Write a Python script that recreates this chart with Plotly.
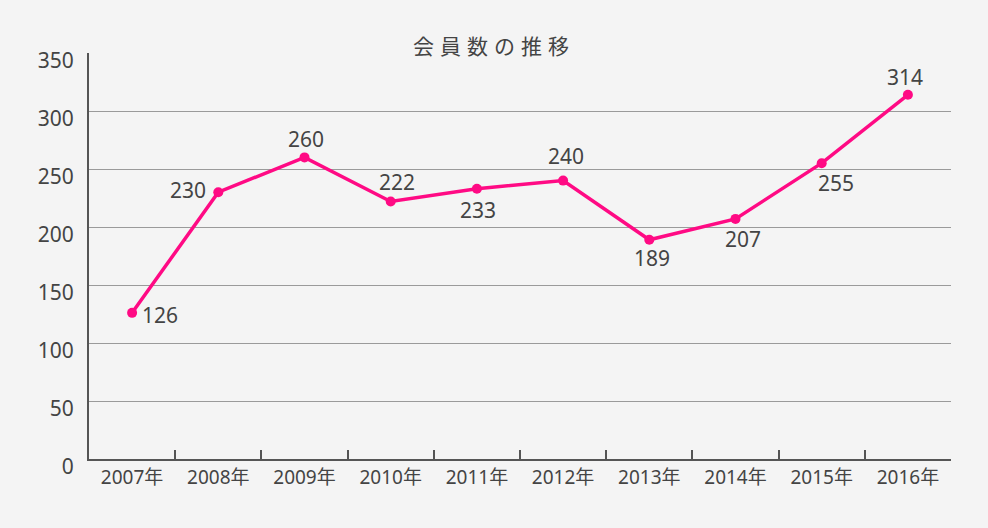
import plotly.graph_objects as go

years = ["2007年", "2008年", "2009年", "2010年", "2011年", "2012年", "2013年", "2014年", "2015年", "2016年"]
members = [126, 230, 260, 222, 233, 240, 189, 207, 255, 314]
y_ticks = [0, 50, 100, 150, 200, 250, 300, 350]

# label placement (pixel offsets from each point; styling only)
label_anchor = ["left", "right", "center", "center", "center", "center", "center", "center", "center", "center"]
label_dx = [8, -10, 1, 6, 1.5, 2.5, 3, 7, 14.5, -2.5]
label_dy = [-2, 2, 18.5, 19, -21, 25, -18, -20, -20, 18]

FONT = "Noto Sans, Noto Sans CJK JP"
BG = "#f4f4f4"
PINK = "#ff0a84"

fig = go.Figure()
fig.add_trace(go.Scatter(
    x=years, y=members,
    mode="lines+markers",
    line=dict(color=PINK, width=3.5),
    marker=dict(color=PINK, size=10),
    cliponaxis=False,
    hoverinfo="x+y",
))

for yr, v, xa, dx, dy in zip(years, members, label_anchor, label_dx, label_dy):
    fig.add_annotation(
        x=yr, y=v, text=str(v), showarrow=False,
        xanchor=xa, yanchor="middle", xshift=dx, yshift=dy,
        font=dict(family=FONT, size=21, color="#444444"),
    )

fig.update_layout(
    width=988, height=528,
    paper_bgcolor=BG, plot_bgcolor=BG,
    margin=dict(l=89, r=37, t=53, b=69),
    showlegend=False,
    title=dict(text="会員数の推移", x=0.5, xref="container", xanchor="center",
               y=1 - 47 / 528, yref="container", yanchor="middle",
               font=dict(family="Noto Sans CJK JP", size=21, color="#444444")),
    font=dict(family=FONT, color="#444444"),
)
fig.update_xaxes(
    type="category", range=[-0.5, len(years) - 0.5],
    showline=True, linecolor="#555555", linewidth=2,
    ticks="inside", tickson="boundaries", ticklen=9, tickwidth=2, tickcolor="#555555",
    showgrid=False,
    tickfont=dict(family=FONT, size=19, color="#444444"),
    ticklabelstandoff=0,
)
fig.update_yaxes(
    range=[0, 350], tickvals=y_ticks,
    showline=True, linecolor="#555555", linewidth=2,
    showgrid=True, gridcolor="#9a9a9a", gridwidth=1,
    zeroline=False, ticks="",
    tickfont=dict(family=FONT, size=21, color="#444444"),
    ticklabelstandoff=9,
    ticklabelshift=8,
)

post = """
document.body.style.margin = '0';
document.body.style.padding = '0';
var t = document.querySelector('.gtitle');
if (t) { t.style.letterSpacing = '6px'; }
"""
fig.write_html("out.html", post_script=post, config={"displayModeBar": False})
